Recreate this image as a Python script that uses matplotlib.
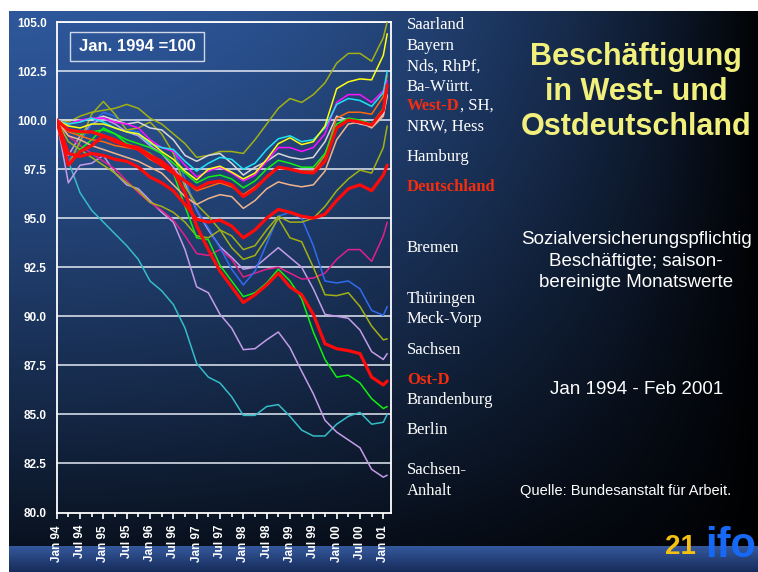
import numpy as np
import matplotlib
matplotlib.use("Agg")
import matplotlib.pyplot as plt
from matplotlib.patches import Rectangle

plt.rcParams['font.family'] = ['Liberation Sans', 'DejaVu Sans']

# ---------------- data (index Jan 1994 = 100), quarterly readings ----------------
months = [0, 3, 6, 9, 12, 15, 18, 21, 24, 27, 30, 33, 36, 39, 42, 45, 48, 51, 54, 57,
          60, 63, 66, 69, 72, 75, 78, 81, 84, 85]
tick_labels = ['Jan 94', 'Jul 94', 'Jan 95', 'Jul 95', 'Jan 96', 'Jul 96', 'Jan 97', 'Jul 97',
               'Jan 98', 'Jul 98', 'Jan 99', 'Jul 99', 'Jan 00', 'Jul 00', 'Jan 01']

saarland = [100, 99.9, 100.2, 100.4, 100.5, 100.6, 100.8, 100.6, 100.1, 99.8, 99.3, 98.8, 98.1, 98.2,
            98.4, 98.4, 98.3, 99.0, 99.8, 100.6, 101.1, 100.9, 101.3, 101.9, 102.9, 103.4, 103.4,
            103.0, 104.2, 105.0]
bayern = [100, 99.7, 99.6, 99.8, 99.8, 99.6, 99.4, 99.3, 98.9, 98.4, 98.0, 97.4, 96.95, 97.5, 97.65,
          97.35, 97.0, 97.3, 98.0, 98.8, 99.1, 98.75, 98.9, 99.7, 101.6, 101.95, 102.1, 102.05, 103.3,
          104.4]
cyan_l = [100, 99.8, 99.9, 100.1, 99.9, 99.6, 99.4, 99.3, 98.8, 98.6, 98.5, 97.9, 97.4, 97.8, 98.1,
          98.0, 97.5, 97.8, 98.5, 99.05, 99.2, 98.9, 99.0, 99.6, 100.8, 101.1, 101.0, 100.7, 101.4,
          102.5]
magenta_l = [100, 99.8, 100.0, 100.1, 100.1, 99.9, 99.8, 99.6, 99.0, 98.6, 98.4, 97.7, 97.1, 97.4,
             97.6, 97.3, 96.9, 97.2, 97.9, 98.6, 98.6, 98.4, 98.6, 99.3, 100.9, 101.3, 101.3, 100.9,
             101.5, 102.0]
silver_l = [100, 100.0, 100.0, 100.0, 100.2, 100.0, 99.8, 99.9, 99.6, 99.5, 99.0, 98.2, 97.9, 98.2,
            98.3, 97.8, 97.2, 97.6, 97.9, 98.3, 98.1, 98.0, 98.1, 98.9, 100.2, 100.0, 99.8, 99.7,
            100.3, 101.3]
orange_l = [100, 99.4, 99.2, 99.0, 98.9, 98.7, 98.6, 98.5, 98.0, 97.7, 97.4, 96.9, 96.4, 96.6, 96.8,
            96.6, 96.2, 96.6, 97.1, 97.6, 97.5, 97.4, 97.4, 98.2, 100.1, 100.4, 100.4, 100.3, 101.2,
            102.3]
green_w = [100, 99.5, 99.3, 99.4, 99.5, 99.3, 99.0, 98.8, 98.6, 98.3, 97.8, 97.3, 96.8, 97.1, 97.2,
           97.0, 96.55, 96.9, 97.5, 97.95, 97.8, 97.6, 97.6, 98.3, 99.8, 100.1, 100.0, 99.8, 100.6,
           101.6]
peach_l = [100, 99.2, 99.0, 98.7, 98.5, 98.3, 98.1, 97.9, 97.6, 97.3, 96.7, 96.1, 95.7, 96.0, 96.2,
           96.1, 95.5, 95.9, 96.5, 96.85, 96.7, 96.6, 96.7, 97.4, 99.0, 99.8, 99.9, 99.6, 100.2, 101.2]
west_d = [100, 99.5, 99.4, 99.4, 99.2, 98.9, 98.7, 98.5, 98.1, 97.7, 97.3, 96.9, 96.5, 96.8, 96.9,
          96.7, 96.1, 96.5, 97.1, 97.6, 97.5, 97.35, 97.3, 97.9, 99.6, 100.0, 99.9, 99.75, 100.5,
          101.8]
hamburg = [100, 98.9, 98.5, 98.1, 97.7, 97.3, 96.8, 96.4, 95.8, 95.6, 95.3, 94.8, 94.1, 94.0, 94.4,
           94.1, 93.4, 93.6, 94.4, 95.1, 94.8, 94.8, 95.0, 95.6, 96.4, 97.0, 97.45, 97.3, 98.6, 99.7]
deutschland = [100, 98.3, 98.15, 98.3, 98.2, 98.0, 97.9, 97.6, 97.1, 96.8, 96.4, 95.7, 94.95, 94.8,
               94.9, 94.6, 94.0, 94.4, 95.0, 95.45, 95.3, 95.1, 95.0, 95.2, 95.9, 96.5, 96.7, 96.4,
               97.2, 97.7]
bremen = [100, 99.2, 98.7, 98.3, 97.9, 97.5, 96.9, 96.3, 95.8, 95.4, 94.9, 94.1, 93.2, 93.1, 93.4,
          92.9, 92.0, 92.2, 92.4, 92.5, 92.2, 91.9, 91.95, 92.2, 92.9, 93.4, 93.4, 92.8, 94.1, 94.8]
thueringen = [100, 97.9, 98.9, 99.8, 100.4, 100.2, 99.5, 99.4, 98.8, 98.6, 98.5, 97.0, 95.4, 94.5,
              93.5, 92.4, 91.6, 92.3, 93.7, 95.1, 95.3, 95.0, 93.6, 91.8, 91.7, 91.8, 91.4, 90.3,
              90.05, 90.5]
meck_vorp = [100, 97.7, 98.9, 100.3, 100.95, 100.3, 99.5, 99.6, 99.9, 99.3, 98.3, 96.6, 95.7, 95.1,
             94.4, 93.5, 92.9, 93.1, 94.0, 95.0, 94.0, 93.8, 92.5, 91.1, 91.05, 91.2, 90.5, 89.5,
             88.8, 88.85]
sachsen = [100, 98.2, 99.2, 99.8, 100.1, 99.8, 99.4, 99.2, 98.7, 98.3, 97.6, 96.8, 95.4, 94.4, 93.55,
           93.0, 92.4, 92.5, 93.0, 93.5, 93.0, 92.5, 91.4, 90.1, 90.0, 89.9, 89.3, 88.2, 87.8, 88.1]
ost_d = [100, 97.7, 98.4, 98.7, 99.2, 99.0, 98.7, 98.6, 98.2, 97.9, 97.4, 96.3, 94.6, 93.4, 92.3,
         91.5, 90.7, 91.1, 91.6, 92.2, 91.5, 91.1, 90.1, 88.6, 88.35, 88.25, 88.1, 86.9, 86.5, 86.7]
brandenburg = [100, 97.7, 98.5, 99.0, 99.6, 99.3, 98.8, 98.6, 98.3, 97.8, 97.3, 95.6, 94.0, 93.9,
               92.6, 91.8, 91.0, 91.2, 91.7, 92.4, 91.8, 90.9, 89.2, 87.8, 86.9, 87.0, 86.6, 85.8,
               85.3, 85.4]
berlin = [100, 97.9, 96.3, 95.4, 94.8, 94.2, 93.6, 92.9, 91.8, 91.3, 90.6, 89.4, 87.6, 86.9, 86.6,
          85.9, 84.95, 84.95, 85.4, 85.5, 84.9, 84.2, 83.9, 83.9, 84.5, 84.9, 85.1, 84.5, 84.6, 85.0]
sachsen_anhalt = [100, 96.8, 97.7, 97.8, 98.2, 97.3, 96.7, 96.5, 95.9, 95.3, 94.8, 93.4, 91.5, 91.2,
                  90.1, 89.4, 88.3, 88.35, 88.8, 89.2, 88.4, 87.2, 86.05, 84.7, 84.1, 83.7, 83.3,
                  82.2, 81.8, 81.9]

legend_names = ['Saarland', 'Bayern', 'Nds, RhPf,', 'Ba-Württ.', 'West-D', ', SH,', 'NRW, Hess',
                'Hamburg', 'Deutschland', 'Bremen', 'Thüringen', 'Meck-Vorp', 'Sachsen', 'Ost-D',
                'Brandenburg', 'Berlin', 'Sachsen-', 'Anhalt']

# ---------------- figure ----------------
W, H = 758, 572
fig = plt.figure(figsize=(W / 100, H / 100), dpi=100)

# background gradient
yy, xx = np.mgrid[0:H, 0:W]
nx = xx / W
ny = yy / H
fx = 1 - 0.97 * nx ** 2.2
gy = 1 - 0.85 * ny ** 1.3
base = np.array([46, 88, 156]) / 255.0
img = base[None, None, :] * (fx * gy)[:, :, None]
# bottom band
band_top, band_bot = 546, H
t = (np.arange(band_top, band_bot) - band_top) / (band_bot - band_top)
c_top = np.array([52, 88, 156]) / 255.0
c_bot = np.array([22, 42, 88]) / 255.0
band = c_top[None, :] * (1 - t[:, None]) + c_bot[None, :] * t[:, None]
img[band_top:band_bot, :, :] = band[:, None, :]
img[:11, :, :] = 1.0
img[:, :9, :] = 1.0

ax_bg = fig.add_axes([0, 0, 1, 1], zorder=-10)
ax_bg.imshow(img, extent=[0, W, H, 0], aspect='auto', interpolation='bilinear')
ax_bg.set_xlim(0, W)
ax_bg.set_ylim(H, 0)
ax_bg.axis('off')


def fx_(px):
    return px / W


def fy_(py):
    return 1 - py / H


# main axes
L, R, T, B = 56.7, 390.5, 22.0, 512.5
ax = fig.add_axes([fx_(L), fy_(B), (R - L) / W, (B - T) / H])
ax.set_facecolor('none')
ax.set_xlim(0, 85.85)
ax.set_ylim(80, 105)

yt = np.arange(80, 105.01, 2.5)
ax.set_yticks(yt)
ax.set_yticklabels([f'{v:.1f}' for v in yt], color='white', fontweight='bold', fontsize=8.5)
ax.tick_params(axis='y', length=0, pad=7)
for v in yt[1:]:
    ax.axhline(v, color='#e4eaf4', lw=1.1, zorder=1)

ax.set_xticks(np.arange(0, 85, 6))
ax.set_xticklabels(tick_labels, rotation=90, color='white', fontweight='bold', fontsize=8.5,
                   va='top', ha='center')
ax.set_xticks(np.arange(3, 85, 6), minor=True)
ax.tick_params(axis='x', which='major', length=4, width=1.2, color='white', pad=5)
ax.tick_params(axis='x', which='minor', length=3, width=1.2, color='white')
for s in ax.spines.values():
    s.set_color('white')
    s.set_linewidth(1.3)

thin = 1.1
thick = 2.3
series = [
    (berlin, '#35bcc8', thin),
    (sachsen_anhalt, '#c49ce8', thin),
    (sachsen, '#c49ce8', thin),
    (bremen, '#e0208c', thin),
    (thueringen, '#2f6cf0', thin),
    (meck_vorp, '#a2b014', thin),
    (hamburg, '#a2b014', thin),
    (brandenburg, '#10f010', thin),
    (saarland, '#a2b014', thin),
    (peach_l, '#f2b48a', thin),
    (silver_l, '#d8d8d8', thin),
    (orange_l, '#ff6a10', thin),
    (green_w, '#10f010', thin),
    (magenta_l, '#ff10ff', thin),
    (cyan_l, '#20e4f4', thin),
    (bayern, '#ffff10', thin),
]
for vals, col, lw in series:
    ax.plot(months, vals, color=col, lw=lw, solid_joinstyle='round', solid_capstyle='round',
            zorder=3)
for vals in (ost_d, deutschland, west_d):
    ax.plot(months, vals, color='#ff0a0a', lw=thick, solid_joinstyle='round',
            solid_capstyle='round', zorder=4)

# box "Jan. 1994 =100"
fig.patches.append(Rectangle((fx_(70), fy_(61)), (204 - 70) / W, (61 - 32) / H,
                             transform=fig.transFigure, facecolor='none',
                             edgecolor='#d0d8e8', lw=1.0, zorder=5))
fig.text(fx_(137), fy_(46.5), 'Jan. 1994 =100', color='white', fontweight='bold', fontsize=12,
         ha='center', va='center')

# legend labels (serif)
red_lab = '#f52d0f'
serif = ['Liberation Serif', 'DejaVu Serif']
lx = 407
label_y = {'Saarland': 25, 'Bayern': 46, 'Nds, RhPf,': 67, 'Ba-Württ.': 87, 'NRW, Hess': 127,
           'Hamburg': 157, 'Bremen': 248, 'Thüringen': 299, 'Meck-Vorp': 319, 'Sachsen': 350,
           'Brandenburg': 400, 'Berlin': 430, 'Sachsen-': 470, 'Anhalt': 491}
for name, y in label_y.items():
    fig.text(fx_(lx), fy_(y), name, color='white', family=serif, fontsize=12,
             ha='left', va='center')
tw = fig.text(fx_(lx), fy_(106), 'West-D', color=red_lab, family=serif, fontsize=12,
              fontweight='bold', ha='left', va='center')
fig.text(fx_(lx), fy_(187), 'Deutschland', color=red_lab, family=serif, fontsize=12,
         fontweight='bold', ha='left', va='center')
fig.text(fx_(lx), fy_(380), 'Ost-D', color=red_lab, family=serif, fontsize=12,
         fontweight='bold', ha='left', va='center')
fig.canvas.draw()
bb = tw.get_window_extent(renderer=fig.canvas.get_renderer())
fig.text(bb.x1 / fig.bbox.width, fy_(106), ', SH,', color='white', family=serif, fontsize=12,
         ha='left', va='center')

# titles / notes
fig.text(fx_(636), fy_(92), 'Beschäftigung\nin West- und\nOstdeutschland', color='#f2f07c',
         fontweight='bold', fontsize=22, ha='center', va='center', linespacing=1.2)
fig.text(fx_(636), fy_(261), 'Sozialversicherungspflichtig\nBeschäftigte; saison-\nbereinigte Monatswerte',
         color='white', fontsize=13.5, ha='center', va='center', linespacing=1.33)
fig.text(fx_(637), fy_(389), 'Jan 1994 - Feb 2001', color='white', fontsize=13.5,
         ha='center', va='center')
fig.text(fx_(626), fy_(491), 'Quelle: Bundesanstalt für Arbeit.', color='white', fontsize=10.5,
         ha='center', va='center')

# page number and logo
fig.text(fx_(680), fy_(547), '21', color='#f5c010', fontweight='bold', fontsize=20,
         ha='center', va='center')
fig.text(fx_(731), fy_(557), 'ifo', color='#1668f5', fontweight='heavy', fontsize=30,
         ha='center', va='baseline')

fig.savefig('out.png', dpi=100)
